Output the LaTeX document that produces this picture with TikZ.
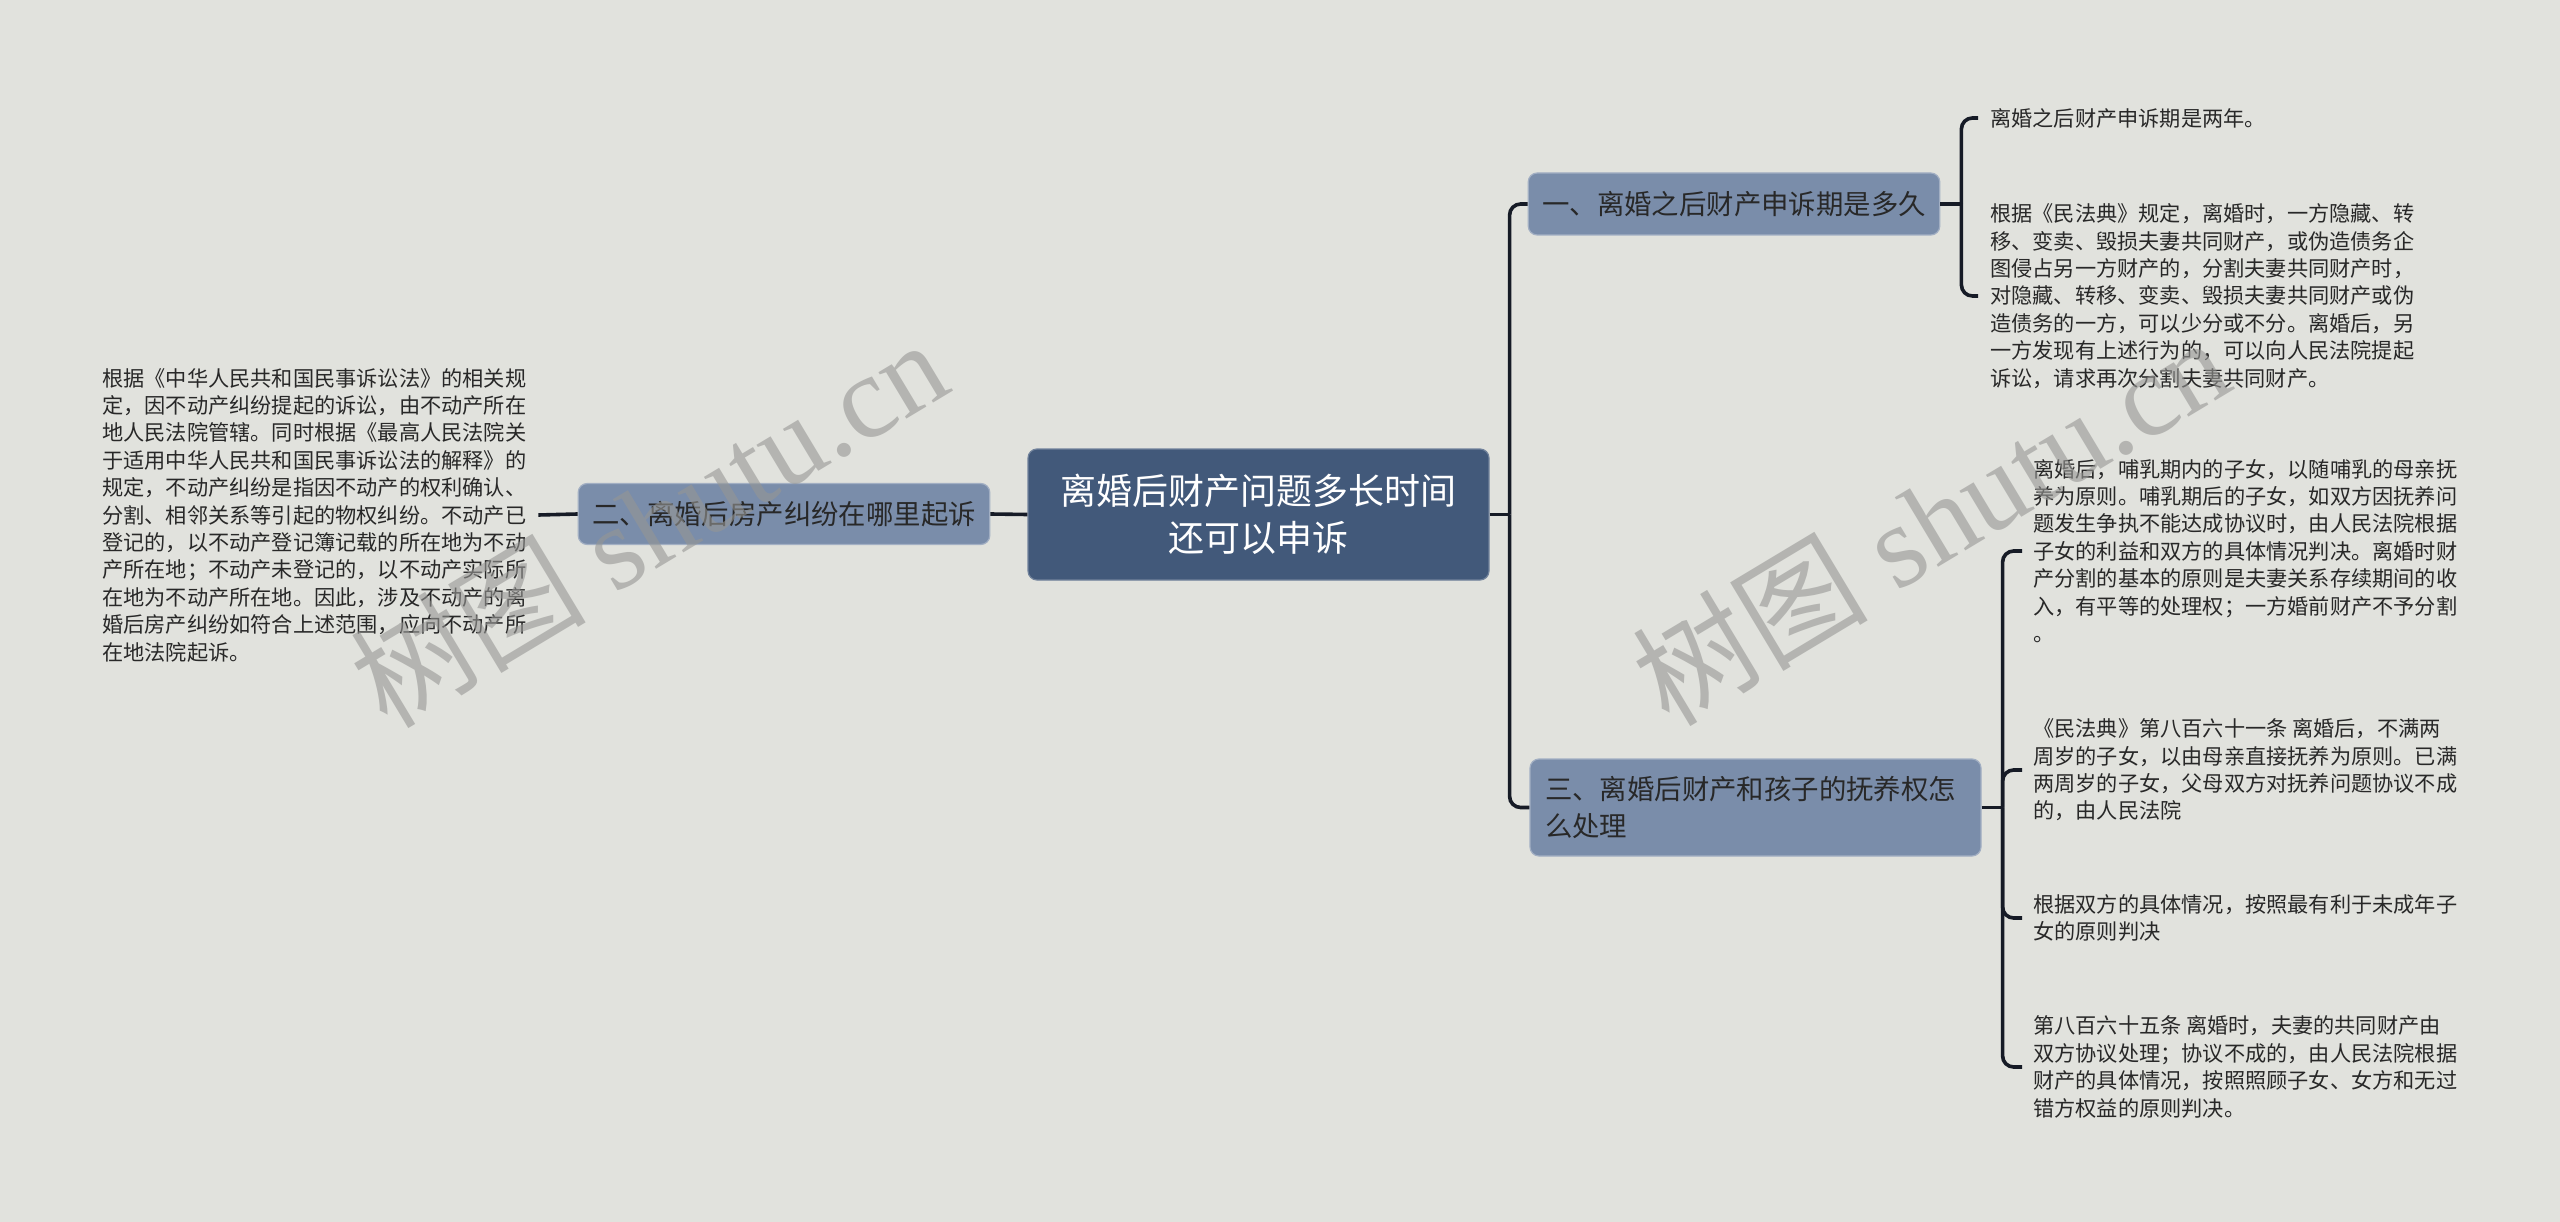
\documentclass[tikz,border=0pt]{standalone}
\usepackage{fontspec}
\setmainfont{Noto Sans CJK SC}
\newfontfamily\wmlatin{Liberation Serif}
\definecolor{bgcol}{RGB}{225,226,221}
\definecolor{rootcol}{RGB}{66,89,122}
\definecolor{topiccol}{RGB}{122,141,170}
\definecolor{linecol}{RGB}{22,27,38}
\definecolor{textcol}{RGB}{40,40,40}
\definecolor{wmcol}{RGB}{150,150,148}

\begin{document}
\begin{tikzpicture}[x=1pt,y=-1pt,
  conn/.style={draw=linecol,line width=3.6pt,rounded corners=11pt},
  rootbox/.style={fill=rootcol,draw=rootcol!75!white,line width=1.2pt,rounded corners=9pt,
    text=white,align=center,minimum width=461pt,minimum height=131pt,
    font=\fontsize{36}{47}\selectfont},
  topic/.style={fill=topiccol,draw=topiccol!70!white,line width=1.2pt,rounded corners=9pt,
    text=textcol,inner xsep=14pt,font=\fontsize{27.4}{37}\selectfont},
  leaf/.style={text=textcol,align=left,inner sep=0pt,anchor=west,
    font=\fontsize{21.2}{27.4}\selectfont},
  wmark/.style={text=wmcol,opacity=.6,rotate=31,font=\wmlatin\fontsize{118}{118}\selectfont}]
  \fill[bgcol] (0,0) rectangle (2560,1222);
  \useasboundingbox (0,0) rectangle (2560,1222);
  % centre
  \node[rootbox] (root) at (1258.5,514.5) {离婚后财产问题多长时间\\还可以申诉};
  % topics
  \node[topic,minimum width=408pt,minimum height=62pt] (t1) at (1734,204) {一、离婚之后财产申诉期是多久};
  \node[topic,minimum width=408pt,minimum height=61pt] (t2) at (784,514) {二、离婚后房产纠纷在哪里起诉};
  \node[topic,align=left,text width=421pt,inner xsep=15pt,minimum height=97pt] (t3) at (1755.5,807.5)
    {三、离婚后财产和孩子的抚养权怎\\么处理};
  % leaves of topic 1
  \node[leaf] (l1a) at (1990,118) {离婚之后财产申诉期是两年。};
  \node[leaf] (l1b) at (1990,296) {根据《民法典》规定，离婚时，一方隐藏、转\\移、变卖、毁损夫妻共同财产，或伪造债务企\\图侵占另一方财产的，分割夫妻共同财产时，\\对隐藏、转移、变卖、毁损夫妻共同财产或伪\\造债务的一方，可以少分或不分。离婚后，另\\一方发现有上述行为的，可以向人民法院提起\\诉讼，请求再次分割夫妻共同财产。};
  % leaf of topic 2
  \node[leaf] (l2) at (102,515) {根据《中华人民共和国民事诉讼法》的相关规\\定，因不动产纠纷提起的诉讼，由不动产所在\\地人民法院管辖。同时根据《最高人民法院关\\于适用中华人民共和国民事诉讼法的解释》的\\规定，不动产纠纷是指因不动产的权利确认、\\分割、相邻关系等引起的物权纠纷。不动产已\\登记的，以不动产登记簿记载的所在地为不动\\产所在地；不动产未登记的，以不动产实际所\\在地为不动产所在地。因此，涉及不动产的离\\婚后房产纠纷如符合上述范围，应向不动产所\\在地法院起诉。};
  % leaves of topic 3
  \node[leaf] (l3a) at (2033,551) {离婚后，哺乳期内的子女，以随哺乳的母亲抚\\养为原则。哺乳期后的子女，如双方因抚养问\\题发生争执不能达成协议时，由人民法院根据\\子女的利益和双方的具体情况判决。离婚时财\\产分割的基本的原则是夫妻关系存续期间的收\\入，有平等的处理权；一方婚前财产不予分割\\。};
  \node[leaf] (l3b) at (2033,770) {《民法典》第八百六十一条 离婚后，不满两\\周岁的子女，以由母亲直接抚养为原则。已满\\两周岁的子女，父母双方对抚养问题协议不成\\的，由人民法院};
  \node[leaf] (l3c) at (2033,918) {根据双方的具体情况，按照最有利于未成年子\\女的原则判决};
  \node[leaf] (l3d) at (2033,1067) {第八百六十五条 离婚时，夫妻的共同财产由\\双方协议处理；协议不成的，由人民法院根据\\财产的具体情况，按照照顾子女、女方和无过\\错方权益的原则判决。};
  % connectors
  \draw[conn] (root.east) -- ++(20,0) coordinate (s0);
  \draw[conn] (s0) |- (t1.west);
  \draw[conn] (s0) |- (t3.west);
  \draw[conn] (root.west) -- (t2.east);
  \draw[conn] (t2.west) -- ([xshift=12pt]l2.east);
  \draw[conn] (t1.east) -- ++(21,0) coordinate (s1);
  \foreach \l in {l1a,l1b} \draw[conn] (s1) |- ([xshift=-12pt]\l.west);
  \draw[conn] (t3.east) -- ++(21,0) coordinate (s3);
  \foreach \l in {l3a,l3b,l3c,l3d} \draw[conn] (s3) |- ([xshift=-11pt]\l.west);
  % watermarks
  \node[wmark] (wm1) at (648,522) {{\rmfamily 树图} shutu.cn};
  \node[wmark] (wm2) at (1930,520) {{\rmfamily 树图} shutu.cn};
\end{tikzpicture}
\end{document}
